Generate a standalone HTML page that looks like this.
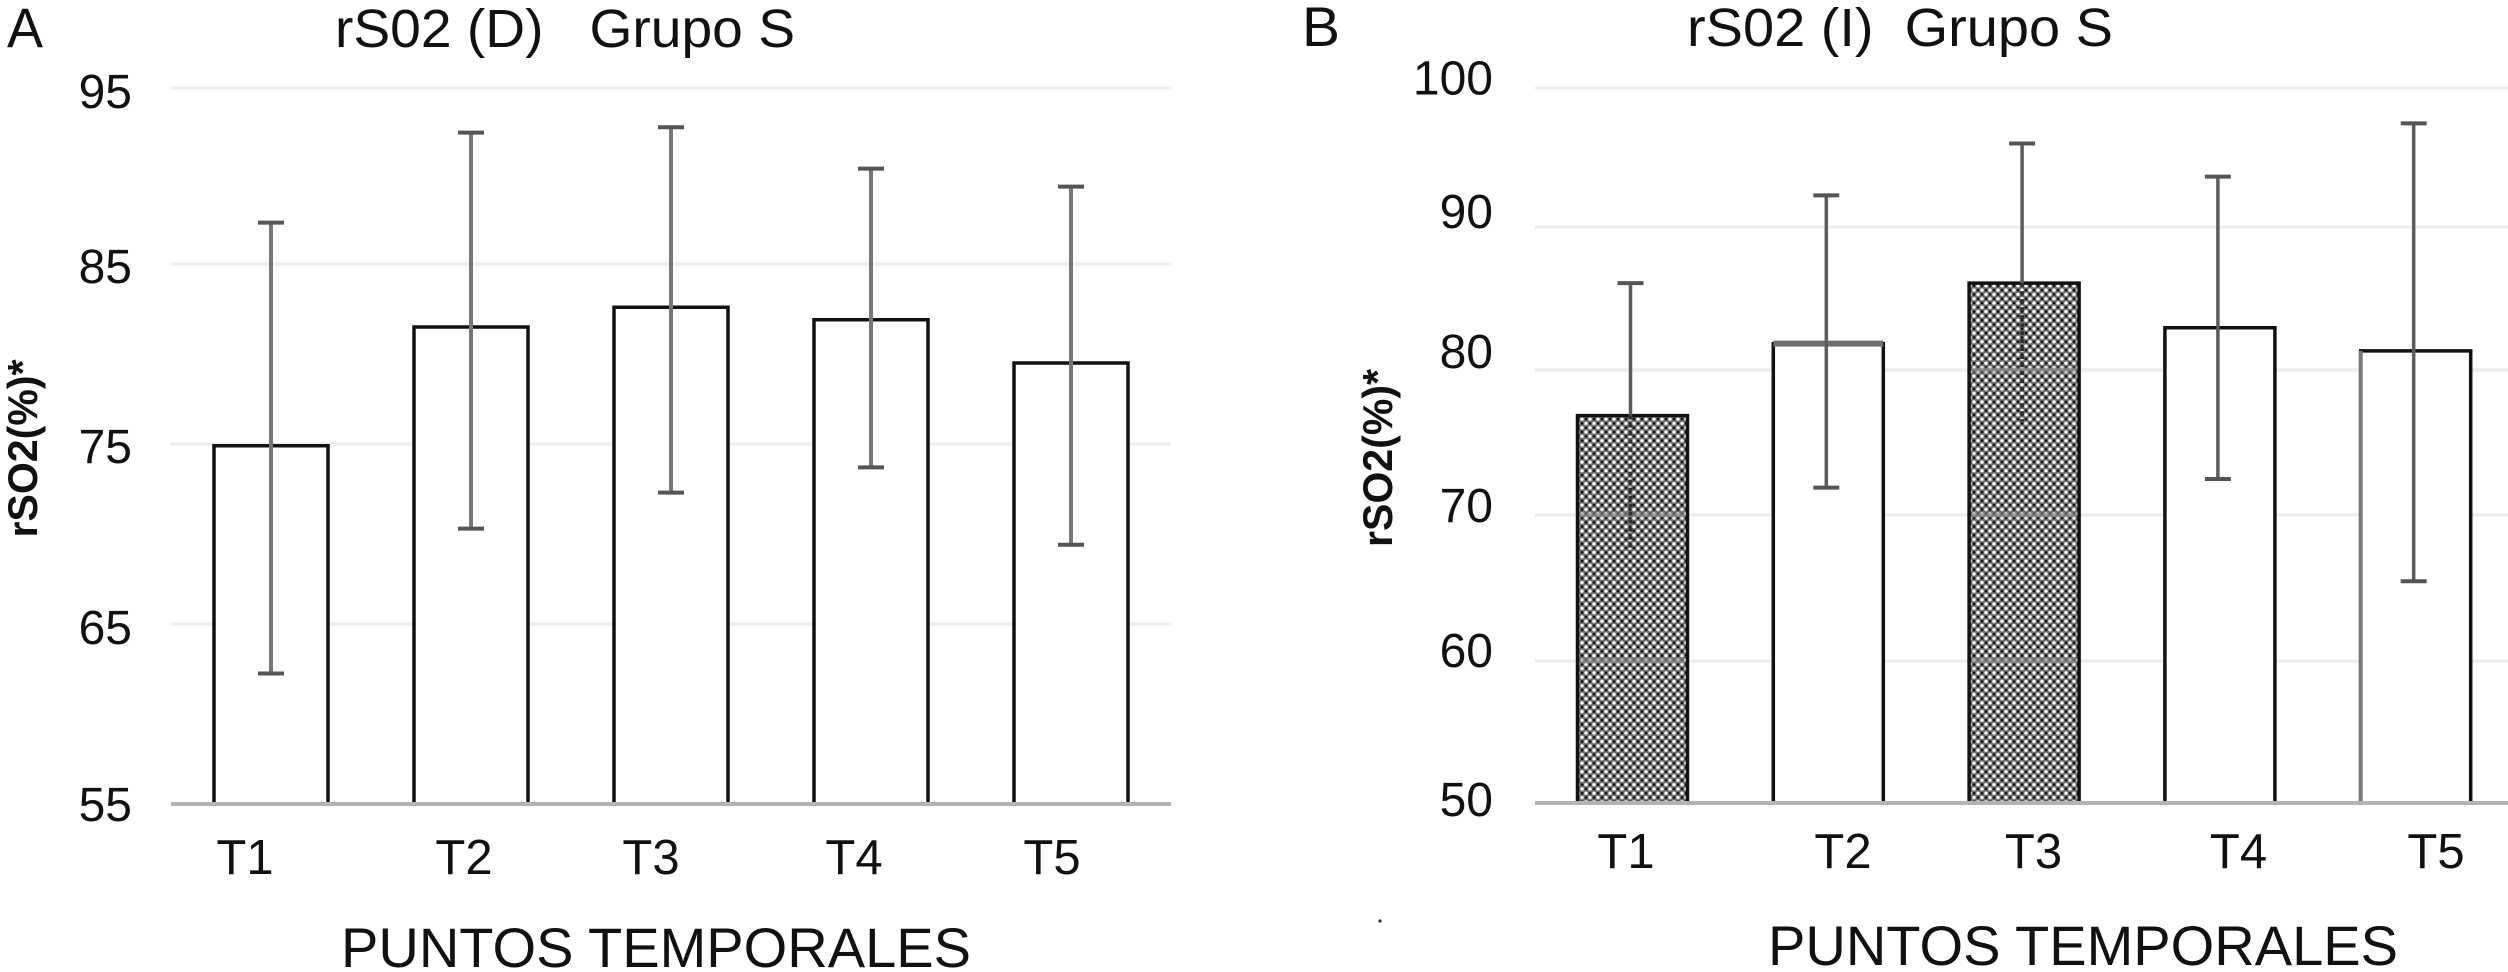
<!DOCTYPE html>
<html lang="es">
<head>
<meta charset="utf-8">
<title>rS02 Grupo S</title>
<style>
html,body{margin:0;padding:0;background:#fff;width:2508px;height:972px;overflow:hidden}
svg{display:block}
text{font-family:"Liberation Sans",Arial,sans-serif;fill:#111;white-space:pre}
</style>
</head>
<body>
<svg id="figure" xmlns="http://www.w3.org/2000/svg" width="2508" height="972" viewBox="0 0 2508 972">
  <defs>
    <pattern id="dots" patternUnits="userSpaceOnUse" width="8" height="8.6">
      <rect width="8" height="8.6" fill="#6e6e6e"/>
      <circle cx="2" cy="2" r="1.7" fill="#fff"/>
      <circle cx="6" cy="6.3" r="1.7" fill="#fff"/>
      <circle cx="6" cy="2" r="1.3" fill="#111"/>
      <circle cx="2" cy="6.3" r="1.3" fill="#111"/>
    </pattern>
  </defs>
  <g id="panel-a"></g>
  <g id="panel-b"></g>

  <text x="7" y="47" font-size="56" textLength="36" lengthAdjust="spacingAndGlyphs">A</text>
  <text x="335" y="47" font-size="54" textLength="460" lengthAdjust="spacingAndGlyphs">rS02 (D)   Grupo S</text>
  <text transform="translate(37,448.5) rotate(-90)" text-anchor="middle" font-size="42" font-weight="700" textLength="178" lengthAdjust="spacingAndGlyphs">rSO2(%)*</text>
  <text x="341" y="967" font-size="56" textLength="630" lengthAdjust="spacingAndGlyphs">PUNTOS TEMPORALES</text>

  <text x="1302" y="46" font-size="56" textLength="38" lengthAdjust="spacingAndGlyphs">B</text>
  <text x="1687" y="46" font-size="54" textLength="426" lengthAdjust="spacingAndGlyphs">rS02 (I)  Grupo S</text>
  <text transform="translate(1392,458) rotate(-90)" text-anchor="middle" font-size="42" font-weight="700" textLength="178" lengthAdjust="spacingAndGlyphs">rSO2(%)*</text>
  <text x="1768" y="965" font-size="56" textLength="630" lengthAdjust="spacingAndGlyphs">PUNTOS TEMPORALES</text>
  <circle cx="1380" cy="921" r="1.6" fill="#333"/>
</svg>
<script>
// Data: shared categories
const categories = ['T1', 'T2', 'T3', 'T4', 'T5'];

// Data: panel A
const ticksA = [55, 65, 75, 85, 95];
const meansA = [74.9, 81.5, 82.6, 81.9, 79.5];
const upperA = [87.3, 92.3, 92.6, 90.3, 89.3];
const lowerA = [62.25, 70.3, 72.3, 73.7, 69.4];
const hatchedA = [false, false, false, false, false];

// Data: panel B
const ticksB = [50, 60, 70, 80, 90, 100];
const meansB = [76.9, 81.9, 86.1, 83.0, 81.4];
const upperB = [86.1, 92.2, 95.8, 93.5, 97.2];
const lowerB = [67.6, 71.9, 76.5, 72.5, 65.4];
const hatchedB = [true, false, true, false, false];

// Layout only
const layoutA = {
  root: 'panel-a', prefix: 'a',
  baseValue: 55, baseY: 804, unit: 18,
  gridLeft: 171, gridRight: 1171, gridDy: [0, 0, 0, 0, 4],
  firstCenter: 271, step: 200, barWidth: 114, errDx: 0,
  stemColor: '#777', stemWidth: 4, barStroke: 3.5,
  tickRight: 132, tickDy: [17, 20, 19, 19, 24],
  catLabelY: 874, catLabelDx: [-26, -7, -20, -17, -19],
  accent: {}
};
const layoutB = {
  root: 'panel-b', prefix: 'b',
  baseValue: 50, baseY: 803, unit: 14.4,
  gridLeft: 1535, gridRight: 2508, gridDy: [0, 2, 0, -1, 0, 5],
  firstCenter: 1632.5, step: 195.8, barWidth: 110, errDx: -2,
  stemColor: '#5c5c5c', stemWidth: 3.5, barStroke: 3.5,
  tickRight: 1493, tickDy: [13, 8, 7, -3, 1, 11.5],
  catLabelY: 868, catLabelDx: [-6.5, 14.7, 9.4, 18.6, 20.3],
  accent: { T2: 'top', T5: 'left' }
};

const NS = 'http://www.w3.org/2000/svg';
function make(tag, attrs, parent) {
  const el = document.createElementNS(NS, tag);
  for (const k in attrs) el.setAttribute(k, attrs[k]);
  parent.appendChild(el);
  return el;
}

function drawPanel(L, ticks, means, upper, lower, hatched) {
  const root = document.getElementById(L.root);
  const y = v => L.baseY - (v - L.baseValue) * L.unit;
  const x = i => L.firstCenter + L.step * i;

  ticks.forEach((t, i) => {
    const label = make('text', {
      x: L.tickRight, y: y(t) + L.tickDy[i], 'text-anchor': 'end', 'font-size': 48
    }, root);
    label.textContent = t;
    
    
    if (i === 0) return;
    const gy = y(t) + L.gridDy[i];
    const grid = make('line', {
      x1: L.gridLeft, x2: L.gridRight, y1: gy, y2: gy,
      stroke: '#eeeeee', 'stroke-width': 3.5
    }, root);
    
    
  });

  categories.forEach((c, i) => {
    const top = y(means[i]);
    const left = x(i) - L.barWidth / 2;
    const right = x(i) + L.barWidth / 2;
    const ex = x(i) + L.errDx;
    const bar = make('path', {
      d: 'M' + left + ' ' + L.baseY + 'V' + top + 'H' + right + 'V' + L.baseY,
      fill: hatched[i] ? 'url(#dots)' : '#fff',
      stroke: '#111', 'stroke-width': L.barStroke
    }, root);
    
    

    if (hatched[i]) {
      ticks.forEach((t, k) => {
        const gy = y(t) + L.gridDy[k];
        if (k > 0 && gy > top + 6) {
          const band = make('line', {
            x1: left + 3, x2: right - 3, y1: gy, y2: gy,
            stroke: '#8a8a8a', 'stroke-width': 5, opacity: 0.65
          }, root);
          
          
        }
      });
    }

    if (L.accent[c] === 'top') {
      const edge = make('line', {
        x1: left, x2: right, y1: top, y2: top, stroke: '#6f6f6f', 'stroke-width': 6
      }, root);
      
      
    }
    if (L.accent[c] === 'left') {
      const edge = make('line', {
        x1: left, x2: left, y1: top, y2: L.baseY, stroke: '#777', 'stroke-width': 4
      }, root);
      
      
    }

    const upY = y(upper[i]);
    const loY = y(lower[i]);
    const stem = make('line', {
      x1: ex, x2: ex, y1: upY, y2: hatched[i] ? top : loY,
      stroke: L.stemColor, 'stroke-width': L.stemWidth
    }, root);
    
    

    if (hatched[i]) {
      const inner = make('line', {
        x1: ex, x2: ex, y1: top, y2: loY,
        stroke: '#333', 'stroke-width': 4, 'stroke-dasharray': '4 4'
      }, root);
      
      
    }

    const capTop = make('line', {
      x1: ex - 13, x2: ex + 13, y1: upY, y2: upY,
      stroke: '#555', 'stroke-width': 4
    }, root);
    
    

    if (!hatched[i]) {
      const capLow = make('line', {
        x1: ex - 13, x2: ex + 13, y1: loY, y2: loY,
        stroke: '#555', 'stroke-width': 4
      }, root);
      
      
    }

    const cat = make('text', {
      x: x(i) + L.catLabelDx[i], y: L.catLabelY, 'text-anchor': 'middle', 'font-size': 49
    }, root);
    cat.textContent = c;
    
    
  });

  const baseline = make('line', {
    x1: L.gridLeft, x2: L.gridRight, y1: y(ticks[0]), y2: y(ticks[0]),
    stroke: '#b4b4b4', 'stroke-width': 4
  }, root);
  
  
}

drawPanel(layoutA, ticksA, meansA, upperA, lowerA, hatchedA);
drawPanel(layoutB, ticksB, meansB, upperB, lowerB, hatchedB);
</script>
</body>
</html>
